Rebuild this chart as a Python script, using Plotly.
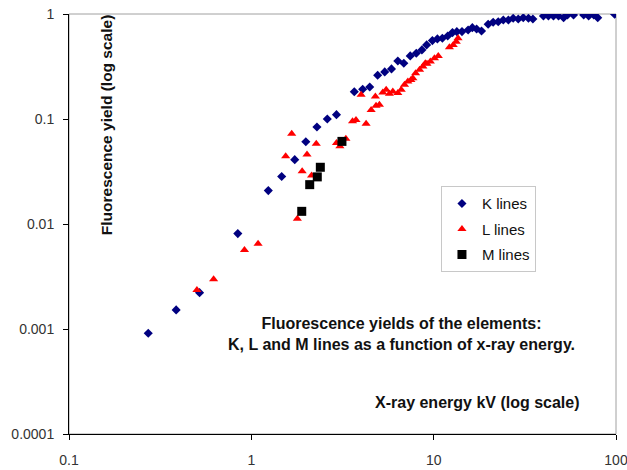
import plotly.graph_objects as go

k_energy = [0.272, 0.387, 0.520, 0.843, 1.239, 1.467, 1.73, 1.99, 2.29, 2.61, 2.93,
            3.67, 4.08, 4.46, 4.93, 5.39, 5.87, 6.36, 6.86, 7.44, 8.03, 8.62, 9.15,
            9.84, 10.48, 11.16, 11.94, 12.68, 13.4, 14.3, 15.45, 16.3, 17.2, 18.3,
            19.9, 21.2, 22.6, 24.1, 25.7, 27.3, 29.1, 31.0, 33.1, 35.0, 40.0, 42.6,
            45.4, 48.4, 51.6, 54.2, 58.5, 66.5, 70.8, 75.5, 79.4, 98.2]
k_yield = [0.00091, 0.00152, 0.00222, 0.0081, 0.0208, 0.0283, 0.041, 0.0608, 0.0838,
           0.100, 0.110, 0.1815, 0.192, 0.202, 0.261, 0.281, 0.300, 0.357, 0.340,
           0.399, 0.423, 0.455, 0.508, 0.558, 0.579, 0.588, 0.618, 0.665, 0.679,
           0.68, 0.705, 0.741, 0.72, 0.689, 0.798, 0.834, 0.845, 0.877, 0.877,
           0.910, 0.896, 0.922, 0.910, 0.896, 0.957, 0.957, 0.957, 0.957, 0.922,
           0.978, 0.978, 0.978, 0.957, 0.978, 0.922, 0.993]

l_energy = [0.503, 0.621, 0.917, 1.089, 1.788, 1.543, 1.665, 1.90, 2.02, 2.14, 2.27,
            2.93, 3.06, 3.30, 3.59, 3.75, 4.26, 4.0, 4.54, 4.83, 5.04, 4.79, 5.26,
            5.49, 5.72, 5.97, 6.36, 6.64, 6.92, 7.22, 7.5, 7.69, 7.96, 8.37, 8.73,
            9.0, 9.19, 9.59, 10.1, 10.6, 12.2, 12.8, 13.3, 13.6]
l_yield = [0.00235, 0.00297, 0.00564, 0.00648, 0.0112, 0.0441, 0.0724, 0.0318, 0.046,
           0.029, 0.058, 0.059, 0.055, 0.065, 0.095, 0.098, 0.090, 0.170, 0.122,
           0.134, 0.137, 0.164, 0.179, 0.190, 0.174, 0.183, 0.177, 0.190, 0.212,
           0.227, 0.235, 0.245, 0.273, 0.294, 0.316, 0.34, 0.335, 0.352, 0.379,
           0.399, 0.483, 0.508, 0.545, 0.588]

m_energy = [1.89, 2.09, 2.30, 2.39, 3.14]
m_yield = [0.0132, 0.0237, 0.0281, 0.0347, 0.0612]

x_ticks = [0.1, 1, 10, 100]
x_ticktext = ["0.1", "1", "10", "100"]
y_ticks = [0.0001, 0.001, 0.01, 0.1, 1]
y_ticktext = ["0.0001", "0.001", "0.01", "0.1", "1"]

FONT = "Liberation Sans, Arial, sans-serif"

fig = go.Figure()
fig.add_trace(go.Scatter(x=k_energy, y=k_yield, mode="markers", name="K lines",
                         legendgroup="k",
                         marker=dict(symbol="diamond", size=7, color="#000080")))
fig.add_trace(go.Scatter(x=l_energy, y=l_yield, mode="markers", name="L lines",
                         legendgroup="l",
                         marker=dict(symbol="triangle-up", size=8, color="#FF0000")))
fig.add_trace(go.Scatter(x=m_energy, y=m_yield, mode="markers", name="M lines",
                         legendgroup="m",
                         marker=dict(symbol="square", size=9, color="#000000")))

fig.update_layout(
    width=627, height=470,
    margin=dict(l=69, r=11, t=14, b=36),
    paper_bgcolor="white", plot_bgcolor="white",
    font=dict(family=FONT, size=14, color="#222"),
    showlegend=True,
    legend=dict(x=0.68, y=0.59, xanchor="left", yanchor="top",
                bordercolor="#c8c8c8", borderwidth=1, bgcolor="white",
                font=dict(size=15, color="#111"), tracegroupgap=3,
                itemsizing="trace"),
    xaxis=dict(type="log", range=[-1, 2], tickvals=x_ticks, ticktext=x_ticktext,
               showgrid=False, zeroline=False, showline=True, linecolor="#000",
               linewidth=1, ticks="outside", ticklen=5, tickcolor="#000",
               ticklabelstandoff=8, automargin=False, ticklabeloverflow="allow",
               tickfont=dict(size=14, color="#333")),
    yaxis=dict(type="log", range=[-4, 0], tickvals=y_ticks, ticktext=y_ticktext,
               showgrid=False, zeroline=False, showline=True, linecolor="#000",
               linewidth=1, ticks="outside", ticklen=5, tickcolor="#000",
               ticklabelstandoff=6, automargin=False, ticklabeloverflow="allow",
               tickfont=dict(size=14, color="#333")),
    shapes=[dict(type="rect", xref="paper", yref="paper", x0=0, y0=0, x1=1, y1=1,
                 line=dict(color="#a0a0a0", width=1), layer="below")],
    annotations=[
        dict(text="Fluorescence yields of the elements:<br>K, L and M lines as a function of x-ray energy.",
             xref="paper", yref="paper", x=0.608, y=0.2375, showarrow=False,
             xanchor="center", yanchor="middle", align="center",
             font=dict(size=16, color="#111", family=FONT, weight="bold")),
        dict(text="X-ray energy kV (log scale)", xref="paper", yref="paper",
             x=0.938, y=0.076, showarrow=False, xanchor="right", yanchor="middle",
             font=dict(size=16, color="#111", family=FONT, weight="bold")),
        dict(text="Fluorescence yield (log scale)", xref="paper", yref="paper",
             x=0.069, y=0.737, showarrow=False, textangle=-90,
             xanchor="center", yanchor="middle",
             font=dict(size=15.5, color="#111", family=FONT, weight="bold")),
    ],
)

fig.write_html("out.html")
